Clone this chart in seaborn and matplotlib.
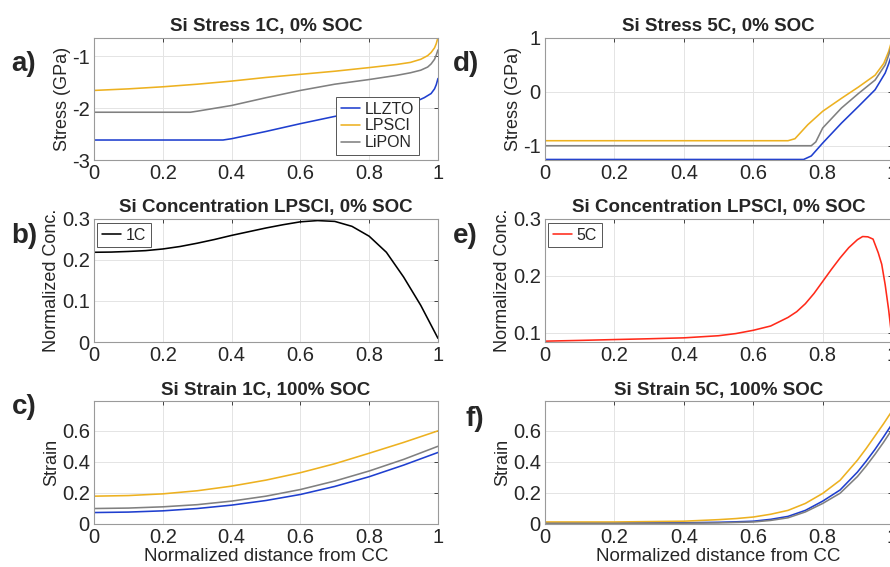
import numpy as np
import seaborn as sns
import matplotlib.pyplot as plt
from matplotlib.ticker import FuncFormatter

# colours used for the three electrolytes
C_LLZTO = "#1f3fcf"
C_LPSCL = "#edb120"
C_LIPON = "#808080"

# ---- a) Si stress 1C, 0% SOC (GPa) ----
a_x_llzto = [0, 0.375, 0.4, 0.5, 0.6, 0.7, 0.8, 0.9, 0.94, 0.96, 0.97, 0.98, 0.99, 0.995, 1.0]
a_y_llzto = [-2.615, -2.615, -2.59, -2.45, -2.30, -2.16, -2.04, -1.93, -1.86, -1.80, -1.76, -1.72, -1.63, -1.55, -1.43]
a_x_lpscl = [0, 0.1, 0.2, 0.3, 0.4, 0.5, 0.6, 0.7, 0.8, 0.88, 0.92, 0.95, 0.97, 0.98, 0.99, 0.995, 1.0]
a_y_lpscl = [-1.66, -1.63, -1.59, -1.54, -1.48, -1.41, -1.35, -1.29, -1.22, -1.16, -1.12, -1.06, -0.99, -0.93, -0.84, -0.76, -0.64]
a_x_lipon = [0, 0.28, 0.3, 0.4, 0.5, 0.6, 0.7, 0.8, 0.88, 0.92, 0.95, 0.97, 0.98, 0.99, 0.995, 1.0]
a_y_lipon = [-2.08, -2.08, -2.06, -1.95, -1.80, -1.66, -1.54, -1.45, -1.37, -1.32, -1.27, -1.21, -1.15, -1.06, -0.98, -0.88]

# ---- d) Si stress 5C, 0% SOC (GPa) ----
d_x_llzto = [0, 0.745, 0.767, 0.8, 0.854, 0.903, 0.951, 0.98, 0.99, 1.0]
d_y_llzto = [-1.255, -1.255, -1.19, -0.95, -0.58, -0.27, 0.04, 0.35, 0.52, 0.72]
d_x_lpscl = [0, 0.70, 0.72, 0.757, 0.8, 0.854, 0.903, 0.951, 0.976, 0.99, 1.0]
d_y_lpscl = [-0.907, -0.907, -0.87, -0.61, -0.36, -0.12, 0.09, 0.31, 0.53, 0.75, 0.97]
d_x_lipon = [0, 0.767, 0.78, 0.8, 0.854, 0.903, 0.951, 0.98, 0.99, 1.0]
d_y_lipon = [-1.0, -1.0, -0.93, -0.67, -0.30, -0.03, 0.22, 0.50, 0.68, 0.9]

# ---- b) Si concentration LPSCl 1C ----
b_x = [0, 0.05, 0.1, 0.15, 0.2, 0.25, 0.3, 0.35, 0.4, 0.45, 0.5, 0.55, 0.6, 0.65,
       0.7, 0.75, 0.8, 0.85, 0.9, 0.95, 1.0]
b_y = [0.218, 0.2185, 0.220, 0.222, 0.226, 0.232, 0.240, 0.249, 0.259, 0.268, 0.277,
       0.285, 0.292, 0.295, 0.293, 0.281, 0.257, 0.218, 0.158, 0.089, 0.009]

# ---- e) Si concentration LPSCl 5C ----
e_x = [0, 0.1, 0.2, 0.3, 0.4, 0.5, 0.55, 0.6, 0.65, 0.7, 0.725, 0.75, 0.775, 0.8,
       0.825, 0.85, 0.875, 0.9, 0.915, 0.93, 0.945, 0.96, 0.97, 0.98, 0.99, 1.0]
e_y = [0.0855, 0.0868, 0.0883, 0.0897, 0.0913, 0.095, 0.0988, 0.1045, 0.112, 0.127,
       0.137, 0.151, 0.169, 0.19, 0.211, 0.231, 0.249, 0.263, 0.2685, 0.268, 0.264,
       0.240, 0.220, 0.184, 0.140, 0.087]

# ---- c) Si strain 1C, 100% SOC ----
c_x = [0, 0.1, 0.2, 0.3, 0.4, 0.5, 0.6, 0.7, 0.8, 0.9, 1.0]
c_y_llzto = [0.071, 0.074, 0.082, 0.097, 0.119, 0.149, 0.188, 0.240, 0.303, 0.378, 0.46]
c_y_lpscl = [0.177, 0.181, 0.192, 0.212, 0.242, 0.281, 0.329, 0.387, 0.455, 0.525, 0.60]
c_y_lipon = [0.097, 0.100, 0.108, 0.122, 0.145, 0.177, 0.220, 0.275, 0.340, 0.415, 0.50]

# ---- f) Si strain 5C, 100% SOC ----
f_x = [0, 0.2, 0.4, 0.5, 0.55, 0.6, 0.65, 0.7, 0.75, 0.8, 0.85, 0.9, 0.925, 0.95, 0.975, 1.0]
f_y_llzto = [0.003, 0.003, 0.005, 0.008, 0.011, 0.015, 0.027, 0.046, 0.085, 0.145, 0.217,
             0.333, 0.403, 0.478, 0.560, 0.645]
f_y_lpscl = [0.010, 0.010, 0.015, 0.025, 0.032, 0.042, 0.060, 0.085, 0.130, 0.195, 0.280,
             0.410, 0.485, 0.565, 0.645, 0.73]
f_y_lipon = [0.0, 0.0, 0.002, 0.004, 0.007, 0.010, 0.020, 0.037, 0.075, 0.130, 0.196,
             0.304, 0.372, 0.446, 0.525, 0.61]

x_ticks = [0, 0.2, 0.4, 0.6, 0.8, 1]


def style_axes(ax, yticks, ylim):
    """ MATLAB-ish look: light grid, grey box, ticks inside """
    ax.set_xlim(0, 1)
    ax.set_ylim(*ylim)
    ax.set_xticks(x_ticks)
    ax.set_yticks(yticks)
    fmt = FuncFormatter(lambda v, p: "%g" % round(v, 3))
    ax.xaxis.set_major_formatter(fmt)
    ax.yaxis.set_major_formatter(fmt)
    ax.grid(True, color="#e4e4e4", lw=0.7)
    ax.tick_params(direction="in", length=3, width=0.6, labelsize=14.5,
                   colors="#262626", top=True, right=True, pad=3)
    for s in ax.spines.values():
        s.set_color("#9a9a9a")
        s.set_linewidth(0.8)
    ax.set_xlabel("")
    ax.set_ylabel("")


def add_legend(ax, **kw):
    leg = ax.legend(borderaxespad=0, fontsize=11.5, handlelength=1.2,
                    labelspacing=0.12, borderpad=0.3, handletextpad=0.3,
                    fancybox=False, framealpha=1, edgecolor="#555555", **kw)
    leg.get_frame().set_linewidth(0.7)


sns.set_style("white")
plt.rcParams["font.family"] = ["Liberation Sans", "DejaVu Sans"]
plt.rcParams["axes.unicode_minus"] = False

fig = plt.figure(figsize=(8.9, 5.67), dpi=100)
left_x, right_x = 0.1056, 0.6124
w_left, w_right = 0.3865, 0.39
rows = [(0.7178, 0.2152), (0.3968, 0.2178), (0.0767, 0.2152)]

ax_a = fig.add_axes([left_x, rows[0][0], w_left, rows[0][1]])
ax_b = fig.add_axes([left_x, rows[1][0], w_left, rows[1][1]])
ax_c = fig.add_axes([left_x, rows[2][0], w_left, rows[2][1]])
ax_d = fig.add_axes([right_x, rows[0][0], w_right, rows[0][1]])
ax_e = fig.add_axes([right_x, rows[1][0], w_right, rows[1][1]])
ax_f = fig.add_axes([right_x, rows[2][0], w_right, rows[2][1]])

lw = 1.15
title_kw = dict(fontsize=13.5, fontweight="bold", pad=5)

# a)
sns.lineplot(x=a_x_llzto, y=a_y_llzto, ax=ax_a, color=C_LLZTO, lw=lw, label="LLZTO")
sns.lineplot(x=a_x_lpscl, y=a_y_lpscl, ax=ax_a, color=C_LPSCL, lw=lw, label="LPSCl")
sns.lineplot(x=a_x_lipon, y=a_y_lipon, ax=ax_a, color=C_LIPON, lw=lw, label="LiPON")
style_axes(ax_a, [-3, -2, -1], (-3, -0.65))
add_legend(ax_a, loc="lower right", bbox_to_anchor=(0.945, 0.04))
ax_a.set_ylabel("Stress (GPa)", fontsize=13, labelpad=1)
ax_a.set_title("Si Stress 1C, 0% SOC", **title_kw)

# d)
sns.lineplot(x=d_x_llzto, y=d_y_llzto, ax=ax_d, color=C_LLZTO, lw=lw)
sns.lineplot(x=d_x_lpscl, y=d_y_lpscl, ax=ax_d, color=C_LPSCL, lw=lw)
sns.lineplot(x=d_x_lipon, y=d_y_lipon, ax=ax_d, color=C_LIPON, lw=lw)
style_axes(ax_d, [-1, 0, 1], (-1.265, 1))
ax_d.set_ylabel("Stress (GPa)", fontsize=13, labelpad=1)
ax_d.set_title("Si Stress 5C, 0% SOC", **title_kw)

# b)
sns.lineplot(x=b_x, y=b_y, ax=ax_b, color="black", lw=lw, label="1C")
style_axes(ax_b, [0, 0.1, 0.2, 0.3], (0, 0.3))
add_legend(ax_b, loc="upper left", bbox_to_anchor=(0.008, 0.965))
ax_b.set_ylabel("Normalized Conc.", fontsize=13, labelpad=1)
ax_b.set_title("Si Concentration LPSCl, 0% SOC", **title_kw)

# e)
sns.lineplot(x=e_x, y=e_y, ax=ax_e, color="#ff2a1a", lw=lw, label="5C")
style_axes(ax_e, [0.1, 0.2, 0.3], (0.084, 0.3))
add_legend(ax_e, loc="upper left", bbox_to_anchor=(0.008, 0.965))
ax_e.set_ylabel("Normalized Conc.", fontsize=13, labelpad=1)
ax_e.set_title("Si Concentration LPSCl, 0% SOC", **title_kw)

# c)
sns.lineplot(x=c_x, y=c_y_llzto, ax=ax_c, color=C_LLZTO, lw=lw)
sns.lineplot(x=c_x, y=c_y_lpscl, ax=ax_c, color=C_LPSCL, lw=lw)
sns.lineplot(x=c_x, y=c_y_lipon, ax=ax_c, color=C_LIPON, lw=lw)
style_axes(ax_c, [0, 0.2, 0.4, 0.6], (0, 0.79))
ax_c.set_ylabel("Strain", fontsize=13, labelpad=1)
ax_c.set_xlabel("Normalized distance from CC", fontsize=13.5, labelpad=1)
ax_c.set_title("Si Strain 1C, 100% SOC", **title_kw)

# f)
sns.lineplot(x=f_x, y=f_y_llzto, ax=ax_f, color=C_LLZTO, lw=lw)
sns.lineplot(x=f_x, y=f_y_lpscl, ax=ax_f, color=C_LPSCL, lw=lw)
sns.lineplot(x=f_x, y=f_y_lipon, ax=ax_f, color=C_LIPON, lw=lw)
style_axes(ax_f, [0, 0.2, 0.4, 0.6], (0, 0.79))
ax_f.set_ylabel("Strain", fontsize=13, labelpad=1)
ax_f.set_xlabel("Normalized distance from CC", fontsize=13.5, labelpad=1)
ax_f.set_title("Si Strain 5C, 100% SOC", **title_kw)

# panel letters
for lab, x, y in [("a)", 0.013, 0.888), ("b)", 0.013, 0.583), ("c)", 0.013, 0.282),
                  ("d)", 0.509, 0.888), ("e)", 0.509, 0.583), ("f)", 0.523, 0.261)]:
    fig.text(x, y, lab, fontsize=20, fontweight="bold", va="center", ha="left")

fig.savefig("out.png", dpi=100)
